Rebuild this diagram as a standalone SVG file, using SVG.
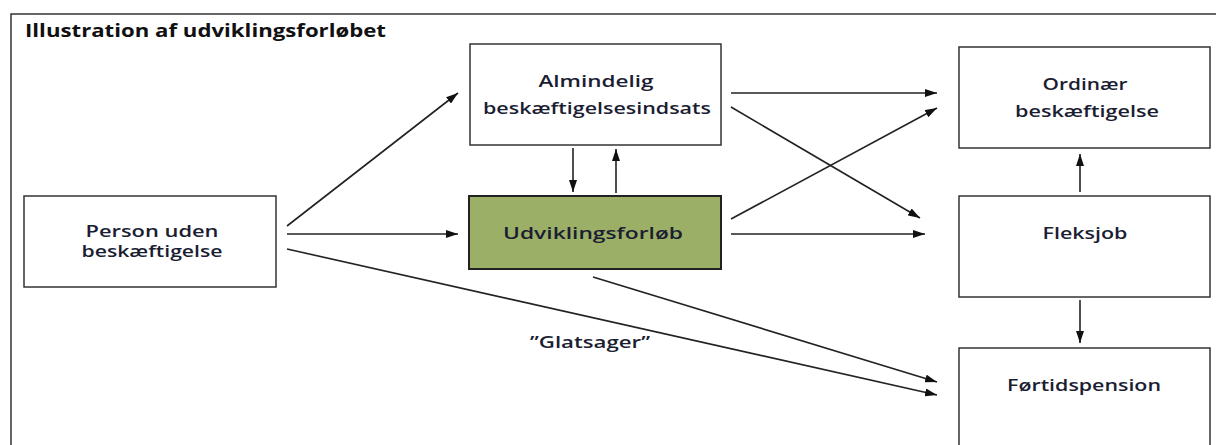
<svg xmlns="http://www.w3.org/2000/svg" width="1216" height="445" viewBox="0 0 1216 445">
<style>
.box{fill:#ffffff;stroke:#333;stroke-width:1.5}
.green{fill:#9bb066;stroke:#222;stroke-width:2}
.t{font-family:"Open Sans","Liberation Sans",sans-serif;font-weight:600;font-size:17px;fill:#1b1e33;text-anchor:middle}
.s{font-size:16px}
.title{font-family:"Open Sans","Liberation Sans",sans-serif;font-weight:700;font-size:17px;fill:#111}
.c line{stroke:#222;stroke-width:1.6;marker-end:url(#ah)}
</style>
<defs>
<marker id="ah" markerWidth="12" markerHeight="8" refX="12" refY="4" orient="auto" markerUnits="userSpaceOnUse">
<path d="M0,0 L12,4 L0,8 Z" fill="#111"/>
</marker>
</defs>
<rect width="1216" height="445" fill="#fff"/>
<g id="frame">
<path d="M11,445 V14 H1216" fill="none" stroke="#333" stroke-width="1.5"/>
<text class="title" x="25" y="37" textLength="361" lengthAdjust="spacingAndGlyphs">Illustration af udviklingsforløbet</text>
</g>
<g id="person">
<rect class="box" x="24" y="196" width="252" height="91"/>
<text class="t s" x="152" y="237" textLength="133" lengthAdjust="spacingAndGlyphs">Person uden</text>
<text class="t s" x="152" y="257" textLength="141" lengthAdjust="spacingAndGlyphs">beskæftigelse</text>
</g>
<g id="almindelig">
<rect class="box" x="470" y="44" width="251" height="101"/>
<text class="t" x="596" y="87" textLength="115" lengthAdjust="spacingAndGlyphs">Almindelig</text>
<text class="t" x="597" y="114" textLength="228" lengthAdjust="spacingAndGlyphs">beskæftigelsesindsats</text>
</g>
<g id="udvikling">
<rect class="green" x="469" y="196" width="252" height="73"/>
<text class="t" x="593" y="239" textLength="180" lengthAdjust="spacingAndGlyphs">Udviklingsforløb</text>
</g>
<g id="ordinaer">
<rect class="box" x="959" y="47" width="251" height="101"/>
<text class="t" x="1085" y="90" textLength="85" lengthAdjust="spacingAndGlyphs">Ordinær</text>
<text class="t" x="1087" y="117" textLength="144" lengthAdjust="spacingAndGlyphs">beskæftigelse</text>
</g>
<g id="fleksjob">
<rect class="box" x="959" y="196" width="251" height="101"/>
<text class="t" x="1085" y="239" textLength="85" lengthAdjust="spacingAndGlyphs">Fleksjob</text>
</g>
<g id="foertid">
<rect class="box" x="959" y="348" width="251" height="110"/>
<text class="t" x="1084" y="391" textLength="154" lengthAdjust="spacingAndGlyphs">Førtidspension</text>
</g>
<g id="connectors" class="c">
<line x1="287" y1="226" x2="458" y2="93"/>
<line x1="287" y1="234" x2="458" y2="234"/>
<line x1="287" y1="249" x2="937" y2="395"/>
<line x1="573" y1="148" x2="573" y2="192"/>
<line x1="616" y1="193" x2="616" y2="149"/>
<line x1="731" y1="93" x2="937" y2="93"/>
<line x1="731" y1="107" x2="920" y2="218"/>
<line x1="731" y1="219" x2="937" y2="108"/>
<line x1="731" y1="234" x2="925" y2="234"/>
<line x1="593" y1="277" x2="937" y2="382"/>
<line x1="1080" y1="192" x2="1080" y2="154"/>
<line x1="1080" y1="300" x2="1080" y2="343"/>
<text class="t" x="590" y="348" textLength="120" lengthAdjust="spacingAndGlyphs">”Glatsager”</text>
</g>
</svg>
